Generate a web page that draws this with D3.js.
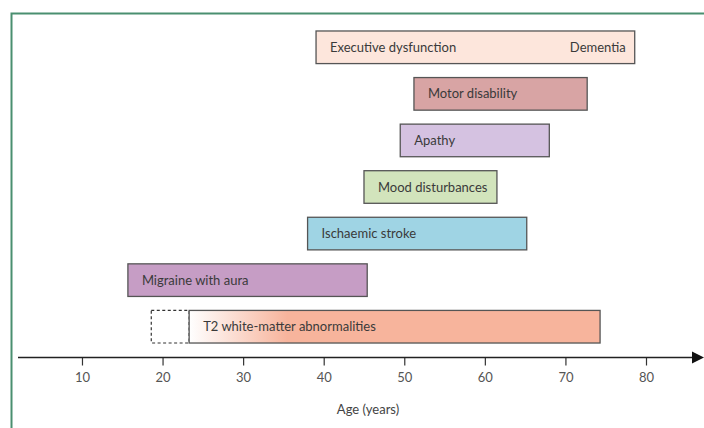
<!DOCTYPE html>
<html><head><meta charset="utf-8">
<script src="https://cdn.jsdelivr.net/npm/d3@7"></script>
<style>
html,body{margin:0;padding:0;background:#fff;}
svg{display:block;}
text{font-family:Lato,"Open Sans",sans-serif;}
</style></head>
<body>
<svg id="c" width="704" height="428"></svg>
<script>
const labels = ["Executive dysfunction","Motor disability","Apathy","Mood disturbances","Ischaemic stroke","Migraine with aura","T2 white-matter abnormalities"];
const starts = [39.05, 51.2, 49.5, 45.0, 38.0, 15.7, 23.3];
const ends   = [78.6, 72.7, 68.0, 61.5, 65.2, 45.4, 74.3];
const fills  = ["#fde6dc","#d8a4a4","#d5c2e1","#d2e4bc","#9fd4e4","#c69dc5","url(#t2grad)"];
const dashedStart = 18.6;   // uncertain onset of T2 abnormalities
const endLabel = "Dementia";
const ticks = [10,20,30,40,50,60,70,80];
const axisTitle = "Age (years)";

const svg = d3.select("#c");
const x = d3.scaleLinear().domain([0,80]).range([1.4, 646]);
const y = d3.scaleBand().domain(labels).range([24, 350]).paddingInner(0.3).paddingOuter(0.15);

const defs = svg.append("defs");
const g = defs.append("linearGradient").attr("id","t2grad")
  .attr("gradientUnits","userSpaceOnUse")
  .attr("x1", x(23.3)).attr("x2", x(35.5)).attr("y1",0).attr("y2",0);
g.append("stop").attr("offset","0").attr("stop-color","#ffffff");
g.append("stop").attr("offset","1").attr("stop-color","#f7b49c");

// frame
svg.append("path").attr("d","M11.5,428 V13.5 H704").attr("fill","none")
  .attr("stroke","#4a8f70").attr("stroke-width",2);

// dashed box
const t2 = labels[6];
svg.append("rect").attr("x", x(dashedStart)).attr("y", y(t2))
  .attr("width", x(starts[6]) - x(dashedStart)).attr("height", y.bandwidth())
  .attr("fill","none").attr("stroke","#333").attr("stroke-width",1.2).attr("stroke-dasharray","3,2.5");

// bars
svg.selectAll("rect.bar").data(labels).enter().append("rect").attr("class","bar")
  .attr("x",(d,i)=>x(starts[i])).attr("y",d=>y(d))
  .attr("width",(d,i)=>x(ends[i])-x(starts[i])).attr("height",y.bandwidth())
  .attr("fill",(d,i)=>fills[i]).attr("stroke","#555").attr("stroke-width",1.3);

svg.selectAll("text.lab").data(labels).enter().append("text").attr("class","lab")
  .attr("x",(d,i)=>x(starts[i])+14).attr("y",d=>y(d)+y.bandwidth()/2)
  .attr("dy","0.35em").attr("font-size",13).attr("fill","#3a3a3a").text(d=>d);

svg.append("text").attr("x", x(ends[0])-9).attr("y", y(labels[0])+y.bandwidth()/2)
  .attr("dy","0.35em").attr("text-anchor","end").attr("font-size",13).attr("fill","#3a3a3a").text(endLabel);

// axis
const ay = 357.5;
const axis = d3.axisBottom(x).tickValues(ticks).tickSize(8).tickPadding(7).tickFormat(d3.format("d"));
const ag = svg.append("g").attr("transform",`translate(0,${ay})`).call(axis);
ag.select(".domain").remove();
ag.selectAll(".tick line").attr("stroke","#333").attr("stroke-width",1.2);
ag.selectAll(".tick text").attr("font-size",13).attr("fill","#555").attr("font-family","Lato,'Open Sans',sans-serif");
svg.append("line").attr("x1",18).attr("x2",695).attr("y1",ay).attr("y2",ay).attr("stroke","#222").attr("stroke-width",1.3);
svg.append("path").attr("d",`M692,${ay-6} L704,${ay} L692,${ay+6} Z`).attr("fill","#111");

svg.append("text").attr("x", x(45.5)).attr("y", 414).attr("text-anchor","middle")
  .attr("font-size",13).attr("fill","#444").text(axisTitle);
</script>
</body></html>
